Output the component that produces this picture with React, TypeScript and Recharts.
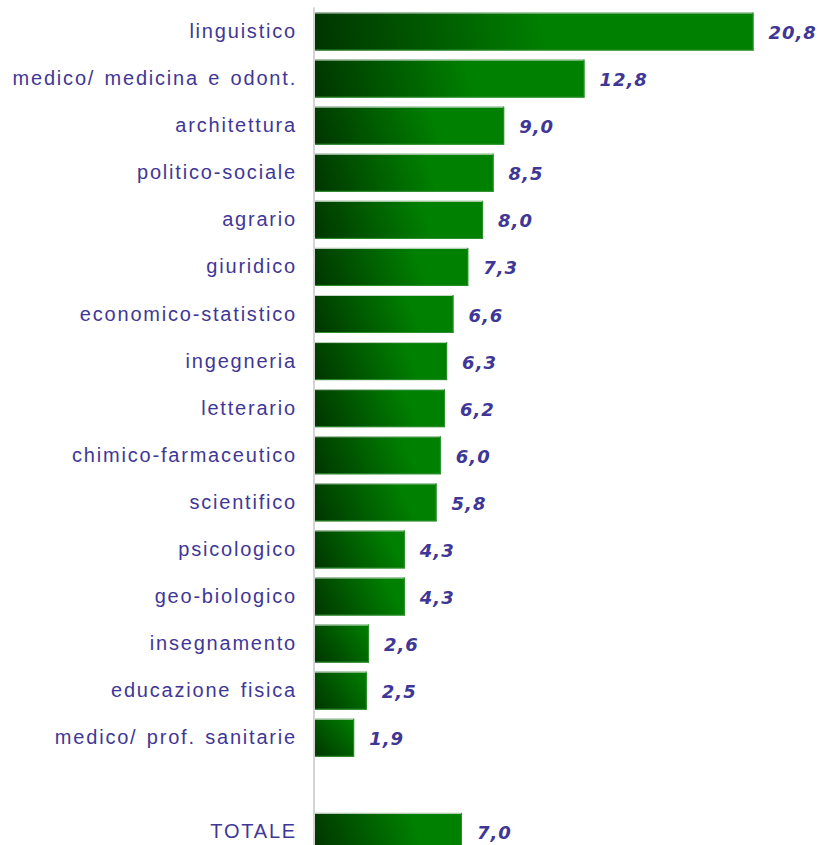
import { BarChart, Bar, XAxis, YAxis, LabelList } from 'recharts'

const categories = [
  'linguistico',
  'medico/ medicina e odont.',
  'architettura',
  'politico-sociale',
  'agrario',
  'giuridico',
  'economico-statistico',
  'ingegneria',
  'letterario',
  'chimico-farmaceutico',
  'scientifico',
  'psicologico',
  'geo-biologico',
  'insegnamento',
  'educazione fisica',
  'medico/ prof. sanitarie',
  '',
  'TOTALE',
]

const values: (number | null)[] = [
  20.8, 12.8, 9.0, 8.5, 8.0, 7.3, 6.6, 6.3, 6.2, 6.0, 5.8, 4.3, 4.3, 2.6, 2.5, 1.9, null, 7.0,
]

const data = categories.map((name, i) => ({ name, key: `c${i}`, value: values[i] }))

const TEXT = '#3f3796'

function CategoryTick(props: any) {
  const { x, y, payload } = props
  const label = data[payload.index]?.name ?? ''
  return (
    <text
      x={x - 15}
      y={y}
      dy="0.35em"
      textAnchor="end"
      fill={TEXT}
      fontSize={20}
      letterSpacing={1.8}
      wordSpacing={2}
      fontFamily="'Liberation Sans', Arial, sans-serif"
    >
      {label}
    </text>
  )
}

function GradientBar(props: any) {
  const { x, y, width, height, index } = props
  if (!width || width <= 0) return null
  const len = Math.min(width, width * 0.45 + 30)
  const id = `barGrad${index}`
  return (
    <g>
      <defs>
        <linearGradient
          id={id}
          gradientUnits="userSpaceOnUse"
          x1={x}
          y1={y + height}
          x2={x + len}
          y2={y}
        >
          <stop offset="0%" stopColor="#003400" />
          <stop offset="100%" stopColor="#008000" />
        </linearGradient>
      </defs>
      <rect x={x} y={y} width={width} height={height} fill={`url(#${id})`} />
      <line x1={x} y1={y + 0.5} x2={x + width} y2={y + 0.5} stroke="#c8d8c8" strokeWidth={1} />
      <line x1={x + width - 0.5} y1={y} x2={x + width - 0.5} y2={y + height} stroke="#2c8f2c" strokeWidth={1} />
      <line x1={x} y1={y + height - 0.5} x2={x + width} y2={y + height - 0.5} stroke="#2c8f2c" strokeWidth={1} />
    </g>
  )
}

function ValueLabel(props: any) {
  const { x, y, width, height, value } = props
  if (value == null) return null
  return (
    <text
      x={x + width + 15}
      y={y + height / 2}
      dy="0.42em"
      fill={TEXT}
      fontSize={18}
      fontWeight="bold"
      fontStyle="italic"
      letterSpacing={1}
      fontFamily="'DejaVu Sans', Verdana, sans-serif"
    >
      {Number(value).toFixed(1).replace('.', ',')}
    </text>
  )
}

export default function App() {
  return (
    <div
      style={{
        position: 'fixed',
        top: 0,
        left: 0,
        width: 820,
        height: 845,
        overflow: 'hidden',
        background: '#fff',
      }}
    >
      <BarChart
        width={820}
        height={855}
        data={data}
        layout="vertical"
        margin={{ top: 7.5, right: 1, bottom: 0, left: 0 }}
      >
        <XAxis type="number" domain={[0, 23.9]} hide />
        <YAxis
          type="category"
          dataKey="key"
          width={314}
          tickLine={false}
          tickSize={0}
          axisLine={{ stroke: '#d4d4d4', strokeWidth: 2 }}
          tick={<CategoryTick />}
          interval={0}
        />
        <Bar dataKey="value" barSize={38} shape={<GradientBar />} isAnimationActive={false}>
          <LabelList dataKey="value" content={<ValueLabel />} />
        </Bar>
      </BarChart>
    </div>
  )
}
